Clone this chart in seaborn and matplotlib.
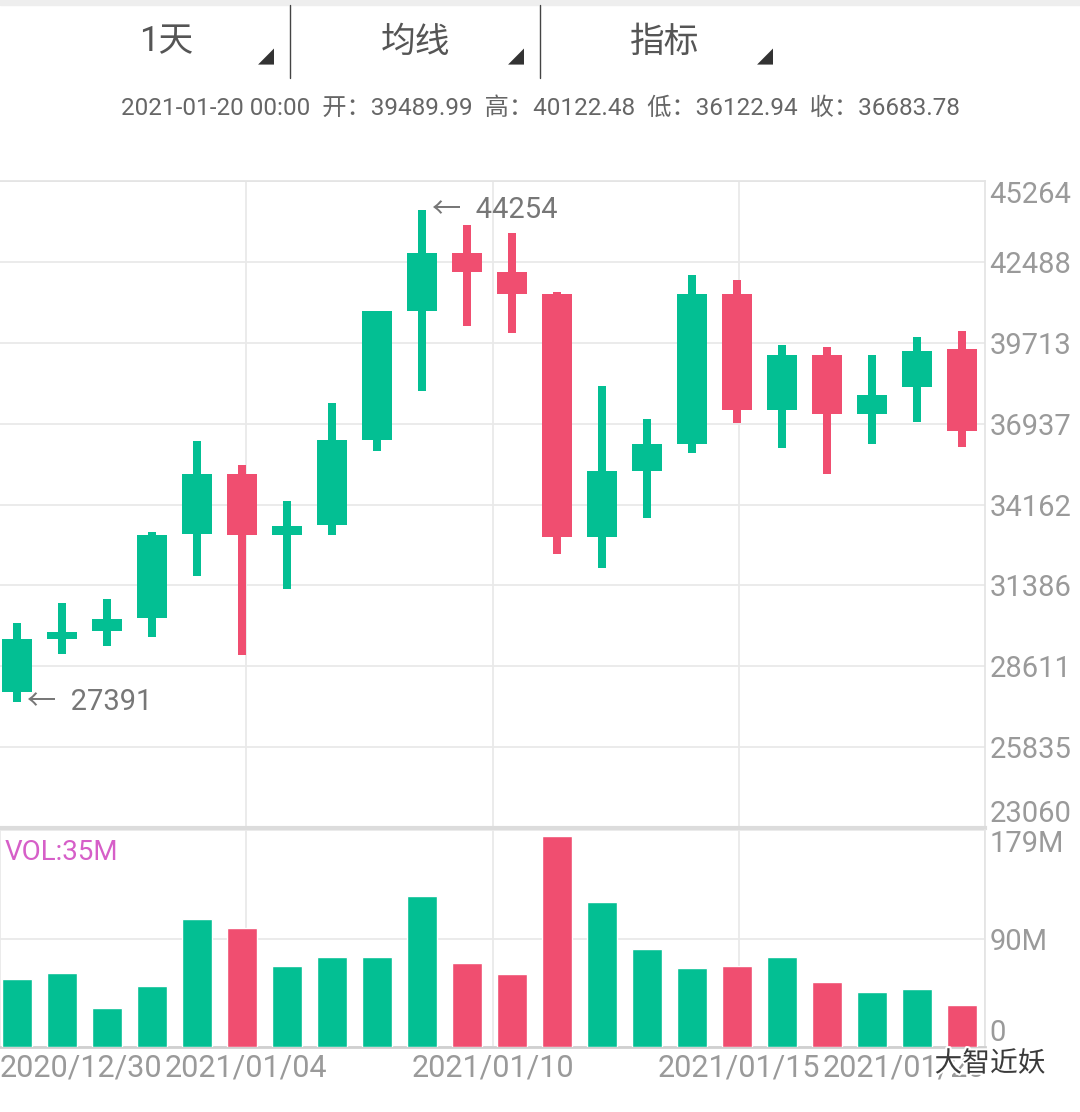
import matplotlib
matplotlib.use("Agg")
import matplotlib.pyplot as plt
import matplotlib.patheffects as pe
import numpy as np
import pandas as pd
import seaborn as sns

# daily candles, 2020-12-30 .. 2021-01-20
dates = pd.date_range("2020-12-30", "2021-01-20", freq="D")
opens = [27730, 29555, 29812, 30264, 33141, 35199, 33104, 33446, 36389, 40819, 42790,
         42146, 41371, 33059, 35322, 36238, 41381, 37404, 39289, 37256, 38202, 39489.99]
highs = [30103, 30789, 30936, 33227, 36327, 35531, 34269, 37647, 40795, 44254, 43771,
         43463, 41439, 38226, 37085, 42033, 41861, 39632, 39574, 39289, 39917, 40122.48]
lows = [27391, 29016, 29321, 29616, 31698, 29002, 31245, 33117, 35984, 38041, 40280,
        40034, 32466, 31975, 33711, 35919, 36947, 36090, 35209, 36238, 37002, 36122.94]
closes = [29531, 29774, 30240, 33117, 35199, 33104, 33422, 36361, 40795, 42790, 42156,
          41381, 33038, 35312, 36227, 41381, 37404, 39289, 37256, 37918, 39437, 36683.78]
volumes = [55.7, 61.2, 32.2, 50.4, 105.6, 98.4, 67.0, 74.2, 74.2, 124.6, 69.0,
           60.4, 174.2, 119.9, 81.0, 65.3, 66.5, 74.4, 53.5, 45.5, 48.0, 35.0]  # millions

price_range = [23060, 45264]
vol_max = 179
tabs = ["1天", "均线", "指标"]

GREEN = "#03BF93"
RED = "#F04E70"
GRID = "#e9e9e9"
LABEL = "#9a9a9a"

W, H = 1080, 1112


def fx(px):
    return px / W


def fy(py):
    return 1 - py / H


sns.set_theme(style="white")
plt.rcParams["font.family"] = ["Roboto", "Noto Sans CJK SC", "DejaVu Sans"]

o, h, l, c = (np.array(a, dtype=float) for a in (opens, highs, lows, closes))
idx = np.arange(len(dates))
up = c >= o
colors = np.where(up, GREEN, RED)

fig = plt.figure(figsize=(W / 100, H / 100), dpi=100)
fig.patch.set_facecolor("white")

# price panel
ax = fig.add_axes([0, fy(828), fx(985), (828 - 181) / H])
ax.bar(idx, h - l, bottom=l, width=0.16, color=colors, linewidth=0, zorder=3)
ax.bar(idx, np.maximum(np.abs(c - o), 20), bottom=np.minimum(o, c), width=0.65,
       color=colors, linewidth=0, zorder=3)

xmin, xmax = -0.378, 21.51
quarters = np.linspace(xmin, xmax, 5)
pticks = np.linspace(price_range[0], price_range[1], 9)

ax.set_xlim(xmin, xmax)
ax.set_ylim(*price_range)
ax.set_xticks(quarters[1:-1])
ax.set_xticklabels([])
ax.set_yticks(pticks)
ax.set_yticklabels([str(int(v)) for v in pticks])
ax.yaxis.tick_right()
ax.tick_params(axis="both", length=0)
ax.tick_params(axis="y", pad=3, labelsize=21, labelcolor=LABEL)
ylabels = ax.get_yticklabels()
ylabels[0].set_verticalalignment("bottom")
ylabels[-1].set_verticalalignment("top")
ax.grid(True, color=GRID, linewidth=1.3, zorder=0)
ax.spines["left"].set_visible(False)
ax.spines["top"].set_color("#e4e4e4")
ax.spines["right"].set_color("#e4e4e4")
ax.spines["bottom"].set_color("#dcdcdc")
ax.spines["bottom"].set_linewidth(3)

# max / min markers
imax, imin = int(np.argmax(h)), int(np.argmin(l))
for i, val in ((imax, h[imax]), (imin, l[imin])):
    ax.annotate(f"←  {int(val)}", xy=(i, val), xytext=(7, 0), textcoords="offset points",
                ha="left", va="center", fontsize=21, color="#777777", zorder=4)

# volume panel
vax = fig.add_axes([0, fy(1047), fx(985), (1047 - 830) / H])
vol_df = pd.DataFrame({"idx": idx, "vol": volumes, "dir": np.where(up, "up", "down")})
sns.barplot(data=vol_df, x="idx", y="vol", hue="dir", palette={"up": GREEN, "down": RED},
            dodge=False, width=0.65, saturation=1, legend=False, ax=vax, zorder=3)
vax.set_xlim(xmin, xmax)
vax.set_ylim(0, vol_max)
vax.set_xlabel("")
vax.set_ylabel("")
vax.set_yticks([0, vol_max / 2, vol_max])
vax.set_yticklabels(["0", f"{vol_max / 2:.0f}M", f"{vol_max}M"])
vax.yaxis.tick_right()
vax.set_xticks(quarters)
date_labels = [dates[min(max(int(round(q)), 0), len(dates) - 1)].strftime("%Y/%m/%d")
               for q in quarters]
vax.set_xticklabels(date_labels)
vax.tick_params(axis="both", length=0)
vax.tick_params(axis="y", pad=3, labelsize=21, labelcolor=LABEL)
vax.tick_params(axis="x", pad=5, labelsize=22, labelcolor=LABEL)
vlabels = vax.get_yticklabels()
vlabels[0].set_verticalalignment("bottom")
vlabels[-1].set_verticalalignment("top")
xl = vax.get_xticklabels()
xl[0].set_horizontalalignment("left")
xl[-1].set_horizontalalignment("right")
vax.grid(True, color=GRID, linewidth=1.3, zorder=0)
vax.spines["left"].set_visible(False)
vax.spines["top"].set_visible(False)
vax.spines["right"].set_color("#e4e4e4")
vax.spines["bottom"].set_color("#d0d0d0")
vax.spines["bottom"].set_linewidth(2)
vax.text(0.005, 0.96, f"VOL:{volumes[-1]:.0f}M", transform=vax.transAxes, ha="left",
         va="top", fontsize=20, color="#D65FC8")

# header: tabs and last candle info
fig.patches.append(plt.Rectangle((0, fy(5)), 1, 5 / H, transform=fig.transFigure,
                                 color="#eeeeee", zorder=0))
for k, name in enumerate(tabs):
    cx = 166 + 249.5 * k
    fig.text(fx(cx), fy(42), name, ha="center", va="center", fontsize=25, color="#555555")
    fig.text(fx(cx + 100), fy(56), "◢", ha="center", va="center", fontsize=15,
             color="#333333", family=["DejaVu Sans"])
    if k < 2:
        sx = fx(290 + 250 * k)
        fig.add_artist(plt.Line2D([sx, sx], [fy(5), fy(78)], color="#444444", linewidth=1))

last = dates[-1].strftime("%Y-%m-%d %H:%M")
info = (f"{last}  开：{opens[-1]:.2f}  高：{highs[-1]:.2f}  "
        f"低：{lows[-1]:.2f}  收：{closes[-1]:.2f}")
fig.text(fx(540), fy(108), info, ha="center", va="center", fontsize=17.5, color="#666666")

# watermark
fig.text(fx(990), fy(1064), "大智近妖", ha="center", va="center", fontsize=20,
         color="#3a3a3a", path_effects=[pe.withStroke(linewidth=3, foreground="white")])

fig.savefig("out.png", dpi=100)
